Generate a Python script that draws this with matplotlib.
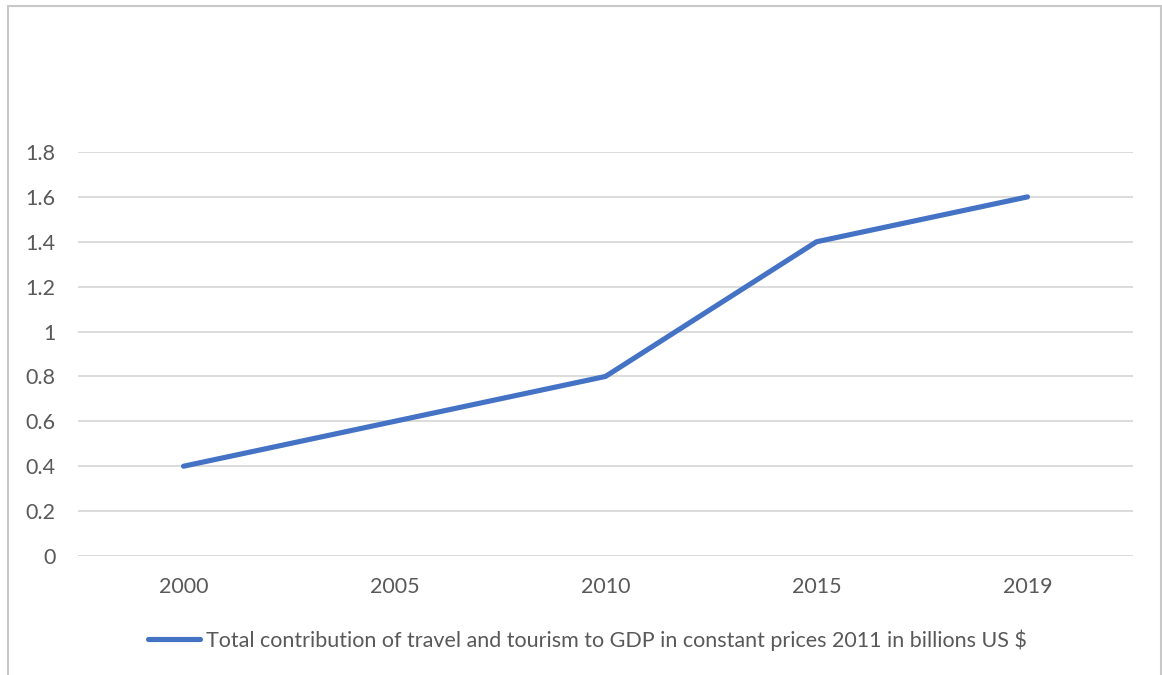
import matplotlib
matplotlib.use("Agg")
import matplotlib.pyplot as plt
from matplotlib.patches import Rectangle

years = ["2000", "2005", "2010", "2015", "2019"]
contribution = [0.4, 0.6, 0.8, 1.4, 1.6]
series_label = "Total contribution of travel and tourism to GDP in constant prices 2011 in billions US $"
yticks = [0, 0.2, 0.4, 0.6, 0.8, 1, 1.2, 1.4, 1.6, 1.8]
ytick_labels = ["0", "0.2", "0.4", "0.6", "0.8", "1", "1.2", "1.4", "1.6", "1.8"]

plt.rcParams["font.family"] = ["Lato", "DejaVu Sans"]
text_color = "#595959"

W, H = 1162, 675
fig = plt.figure(figsize=(W / 100, H / 100), dpi=100)
fig.patch.set_facecolor("white")

# plot area placed to match the excel-style layout
ax = fig.add_axes([78 / W, (H - 556) / H, (1133 - 78) / W, (556 - 152) / H])

x = range(len(years))
ax.plot(x, contribution, color="#4472C4", lw=3.7, solid_capstyle="round",
        solid_joinstyle="round", label=series_label, zorder=3)

ax.set_xlim(-0.5, len(years) - 0.5)
ax.set_ylim(0, 1.8)
ax.set_xticks(list(x))
ax.set_xticklabels(years)
ax.set_yticks(yticks)
ax.set_yticklabels(ytick_labels)
ax.tick_params(axis="both", length=0, labelsize=15.5, colors=text_color)
ax.tick_params(axis="y", pad=16)
ax.tick_params(axis="x", pad=15)
ax.grid(axis="y", color="#d9d9d9", lw=1.3)
ax.set_axisbelow(True)
for s in ax.spines.values():
    s.set_visible(False)

fig.legend(loc="center", bbox_to_anchor=(587 / W, (H - 640) / H),
           frameon=False, handlelength=2.45, handletextpad=0.25,
           fontsize=15.5, labelcolor=text_color)

# outer chart border
fig.add_artist(Rectangle((8 / W, -0.05), (1161 - 8) / W, 1.05 - 6 / H,
                         transform=fig.transFigure, fill=False,
                         edgecolor="#c8c8c8", lw=1.5))

fig.savefig("out.png", dpi=100)
